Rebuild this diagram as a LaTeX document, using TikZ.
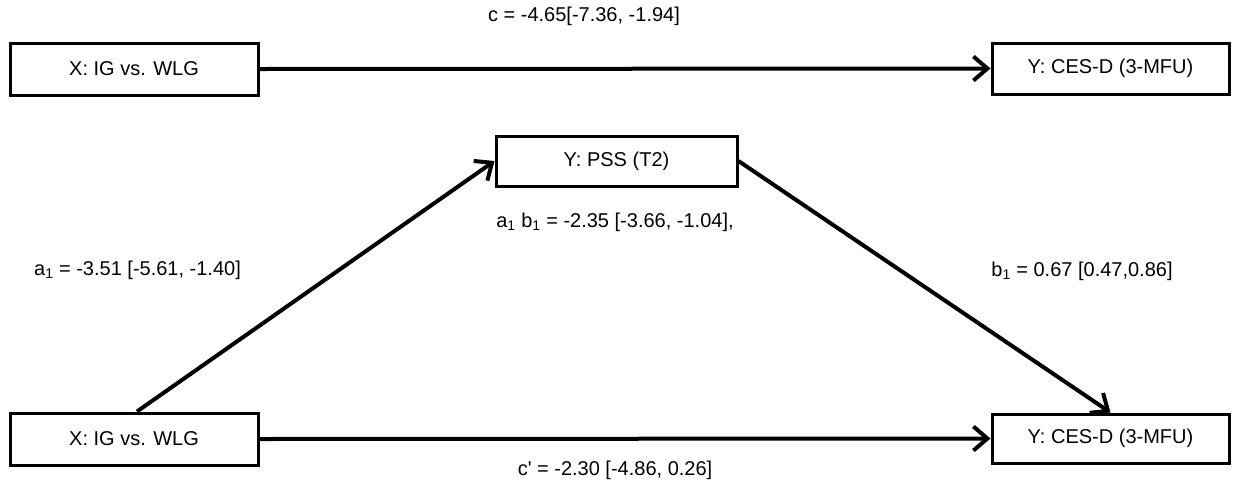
\documentclass[tikz,border=0pt]{standalone}
\usepackage{fontspec}
\setmainfont{Liberation Sans}[Ligatures=TeXOff]
\usetikzlibrary{arrows.meta}
\tikzset{
  varbox/.style={draw, line width=3pt, rectangle, inner sep=0pt, font=\fontsize{20}{24}\selectfont},
  path/.style={line width=4pt, -{Straight Barb[length=14pt, width=24pt, line width=4pt]}},
  coef/.style={inner sep=0pt, font=\fontsize{20}{24}\selectfont}
}
\begin{document}
\begin{tikzpicture}[x=1pt, y=-1pt]
\useasboundingbox (0,0) rectangle (1237,483);
% total effect model
\node[varbox, minimum width=248pt, minimum height=52pt] (xtop) at (134,69) {X: IG vs. WLG};
\node[varbox, minimum width=237pt, minimum height=51pt] (ytop) at (1110.5,68.5) {Y: CES-D (3-MFU)};
\draw[path] (xtop.east) -- (ytop.west);
\node[coef] (c) at (584,16) {c = -4.65[-7.36, -1.94]};
% mediation model
\node[varbox, minimum width=241pt, minimum height=50pt] (med) at (616.5,161) {Y: PSS (T2)};
\node[varbox, minimum width=248pt, minimum height=52pt] (xbot) at (134,439) {X: IG vs. WLG};
\node[varbox, minimum width=237pt, minimum height=49pt] (ybot) at (1110.5,438.5) {Y: CES-D (3-MFU)};
\draw[path] ([xshift=3pt]xbot.north) -- (med.west);
\draw[path] (med.east) -- (ybot.north);
\draw[path] (xbot.east) -- (ybot.west);
\node[coef] (ab) at (615,222) {a\textsubscript{1} b\textsubscript{1} = -2.35 [-3.66, -1.04],};
\node[coef] (a) at (137.5,270) {a\textsubscript{1} = -3.51 [-5.61, -1.40]};
\node[coef] (b) at (1082,271) {b\textsubscript{1} = 0.67 [0.47,0.86]};
\node[coef] (cp) at (615,470) {c' = -2.30 [-4.86, 0.26]};
\end{tikzpicture}
\end{document}
